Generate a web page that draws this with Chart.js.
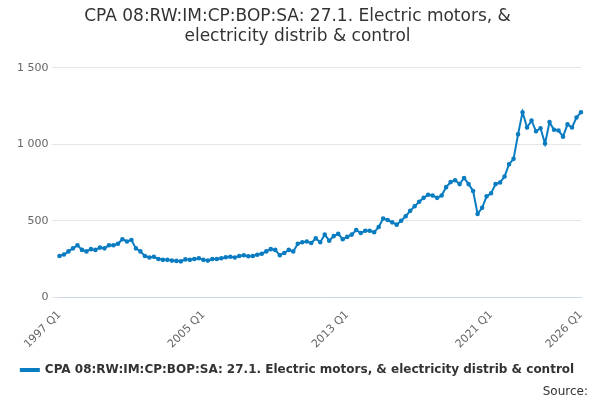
<!DOCTYPE html>
<html lang="en">
<head>
  <meta charset="UTF-8">
  <title>CPA 08:RW:IM:CP:BOP:SA: 27.1</title>
  <script src="https://cdn.jsdelivr.net/npm/chart.js"></script>
  <style>
    body { margin: 0; font-family: 'DejaVu Sans', sans-serif; }
    #wrap { width: 600px; height: 400px; position: relative; }
    #source { position: absolute; right: 12px; bottom: 2px; font-size: 12px; color: #333; }
  </style>
</head>
<body>
  <div id="wrap">
    <canvas id="chart" width="600" height="400"></canvas>
    <div id="source">Source:</div>
  </div>
  <script>
    const seriesName = 'CPA 08:RW:IM:CP:BOP:SA: 27.1. Electric motors, & electricity distrib & control';
    const startYear = 1997;
    const values = [
      270, 280, 300, 320, 340, 310, 300, 315, 310, 325, 320, 340, 340, 350, 380, 365,
      375, 320, 300, 270, 260, 265, 250, 245, 245, 240, 238, 235, 248, 245, 250, 255,
      245, 240, 250, 250, 255, 262, 265, 260, 270, 275, 268, 270, 278, 285, 300, 315,
      310, 275, 290, 310, 300, 350, 360, 365, 355, 385, 360, 410, 370, 400, 415, 380,
      395, 410, 440, 420, 435, 435, 425, 460, 515, 505, 490, 475, 500, 530, 565, 595,
      625, 650, 670, 665, 650, 665, 720, 753, 765, 740, 780, 740, 695, 545, 585, 660,
      680, 740, 750, 790, 870, 905, 1065, 1210, 1110, 1155, 1085, 1105, 1005, 1145, 1095, 1090,
      1050, 1130, 1110, 1175, 1210
    ];
    const labels = values.map((v, i) => (startYear + Math.floor(i / 4)) + ' Q' + (i % 4 + 1));
    const shownTicks = ['1997 Q1', '2005 Q1', '2013 Q1', '2021 Q1', '2026 Q1'];

    new Chart(document.getElementById('chart'), {
      type: 'line',
      data: {
        labels: labels,
        datasets: [{
          label: seriesName,
          data: values,
          borderColor: '#0a7cc1',
          backgroundColor: '#0a7cc1',
          borderWidth: 2,
          pointRadius: 1.3,
          pointHoverRadius: 3,
          tension: 0
        }]
      },
      options: {
        responsive: false,
        animation: false,
        layout: { padding: { left: 14, right: 19, bottom: 14 } },
        plugins: {
          title: {
            display: true,
            text: ['CPA 08:RW:IM:CP:BOP:SA: 27.1. Electric motors, &', 'electricity distrib & control'],
            font: { size: 17, family: 'DejaVu Sans', weight: 'normal' },
            color: '#333',
            padding: { top: 6, bottom: 21 }
          },
          legend: {
            position: 'bottom',
            labels: {
              font: { size: 12, family: 'DejaVu Sans', weight: 'bold' },
              color: '#333',
              boxWidth: 18,
              boxHeight: 2,
              usePointStyle: false
            }
          }
        },
        scales: {
          x: {
            grid: { display: false, drawTicks: true },
            border: { color: '#ccd6eb' },
            ticks: {
              autoSkip: false,
              maxRotation: 45,
              minRotation: 45,
              color: '#666',
              font: { size: 11, family: 'DejaVu Sans' },
              callback: function (v) {
                const l = this.getLabelForValue(v);
                return shownTicks.includes(l) ? l : null;
              }
            }
          },
          y: {
            min: 0,
            max: 1500,
            border: { display: false },
            grid: { color: '#e6e6e6' },
            ticks: {
              stepSize: 500,
              color: '#666',
              font: { size: 11, family: 'DejaVu Sans' },
              callback: v => String(v).replace(/\B(?=(\d{3})+(?!\d))/g, ' ')
            }
          }
        }
      }
    });
  </script>
</body>
</html>
